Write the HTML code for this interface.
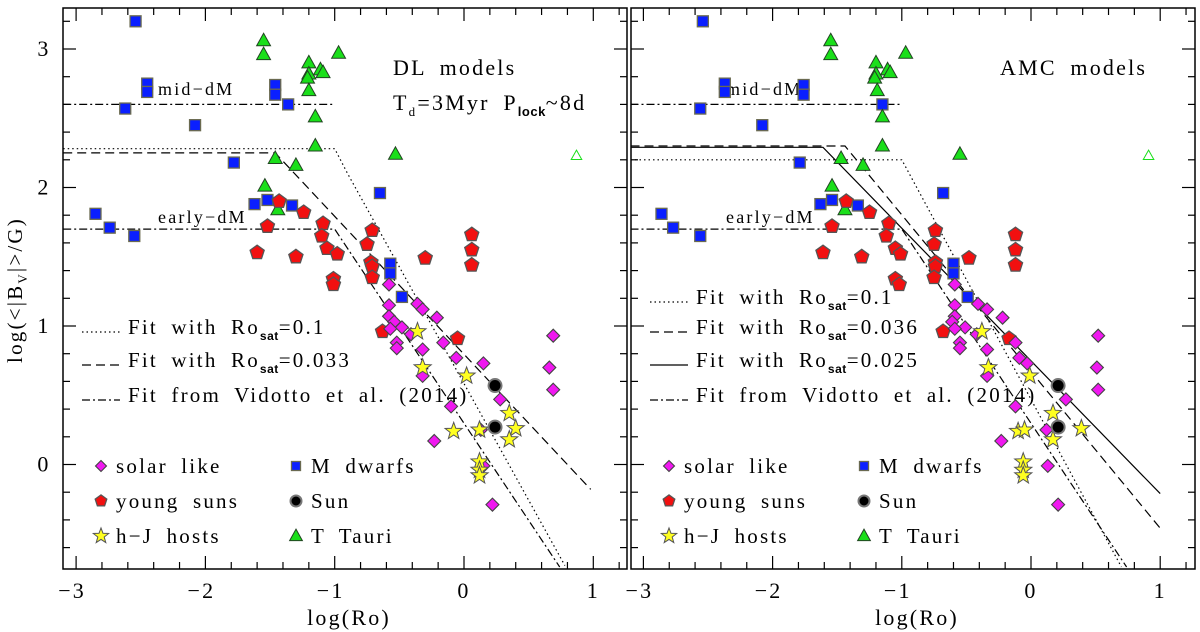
<!DOCTYPE html>
<html><head><meta charset="utf-8"><style>
html,body{margin:0;padding:0;background:#fff;}
svg{display:block;font-family:"Liberation Serif",serif;}
text{letter-spacing:2.2px;word-spacing:6px;}
</style></head><body>
<svg id="chart" width="1200" height="632" viewBox="0 0 1200 632" xmlns="http://www.w3.org/2000/svg"></svg>
<script>
// ---- data ----
const mdY   = [3.20,2.75,2.69,2.57,2.45,2.74,2.67,2.60,2.18,1.81,1.71,1.65,1.88,1.91,1.87,1.96,1.45,1.38,1.21];
const mdXdl = [-2.54,-2.45,-2.45,-2.62,-2.08,-1.46,-1.46,-1.36,-1.78,-2.85,-2.74,-2.55,-1.62,-1.52,-1.33,-0.65,-0.57,-0.57,-0.48];
const mdXamc= [-2.54,-2.37,-2.37,-2.56,-2.08,-1.76,-1.76,-1.15,-1.79,-2.86,-2.77,-2.56,-1.63,-1.54,-1.34,-0.68,-0.60,-0.60,-0.49];
const ttY   = [3.06,2.96,2.90,2.82,2.79,2.85,2.83,2.97,2.70,2.51,2.30,2.21,2.16,2.24,2.01,1.84];
const ttXdl = [-1.55,-1.55,-1.20,-1.20,-1.21,-1.11,-1.09,-0.97,-1.20,-1.15,-1.15,-1.46,-1.30,-0.53,-1.54,-1.44];
const ttXamc= [-1.55,-1.55,-1.20,-1.20,-1.21,-1.11,-1.09,-0.97,-1.19,-1.15,-1.15,-1.47,-1.30,-0.55,-1.54,-1.44];
const ttOpenY = [2.23];
const ttOpenXdl = [0.87];
const ttOpenXamc = [0.91];
const ysY   = [1.90,1.82,1.72,1.53,1.50,1.74,1.65,1.56,1.52,1.34,1.30,1.69,1.59,1.46,1.43,1.35,1.49,1.66,1.55,1.44,0.96,0.91];
const ysXdl = [-1.43,-1.24,-1.52,-1.60,-1.30,-1.09,-1.10,-1.06,-0.98,-1.01,-1.01,-0.71,-0.75,-0.72,-0.71,-0.71,-0.30,0.06,0.06,0.06,-0.63,-0.05];
const ysXamc= [-1.43,-1.25,-1.54,-1.61,-1.31,-1.10,-1.12,-1.05,-1.01,-1.05,-1.02,-0.74,-0.75,-0.74,-0.74,-0.75,-0.48,-0.12,-0.12,-0.12,-0.68,-0.17];
const slY   = [1.30,1.15,1.16,1.12,1.06,1.07,1.03,0.99,0.98,0.94,0.88,0.84,0.83,0.88,0.77,0.73,0.64,0.42,0.47,0.17,-0.01,-0.29,0.93,0.70,0.54,0.25];
const slXdl = [-0.58,-0.58,-0.36,-0.32,-0.21,-0.58,-0.54,-0.48,-0.57,-0.41,-0.52,-0.52,-0.32,-0.16,-0.06,0.15,-0.32,-0.10,0.28,-0.23,0.15,0.22,0.69,0.66,0.69,0.13];
const slXamc= [-0.59,-0.59,-0.41,-0.34,-0.22,-0.59,-0.61,-0.51,-0.59,-0.42,-0.55,-0.55,-0.34,-0.12,-0.09,-0.03,-0.34,-0.12,0.27,-0.23,0.13,0.21,0.52,0.51,0.52,0.12];
const hjY   = [0.96,0.70,0.64,0.37,0.26,0.18,0.24,0.25,0.02,-0.04,-0.08];
const hjXdl = [-0.36,-0.32,0.02,0.35,0.40,0.35,-0.08,0.12,0.12,0.12,0.12];
const hjXamc= [-0.38,-0.33,-0.01,0.17,0.39,0.17,-0.10,-0.05,-0.06,-0.06,-0.06];
const sunY  = [0.57,0.27];
const sunXdl = [0.24,0.24];
const sunXamc= [0.21,0.21];
// fit lines (x, y vertices)
const dlDotX = [-3.1,-1.0,-0.9,0.78];   const dlDotY = [2.28,2.28,2.10,-0.73];
const dlDashX = [-3.1,-1.46,0.98];      const dlDashY = [2.25,2.25,-0.18];
const vidX = [-3.1,-1.0,0.74];          const vidY = [1.70,1.70,-0.74];
const midX = [-3.1,-1.0];               const midY = [2.60,2.60];
const amcDotX = [-3.1,-1.0,0.70];       const amcDotY = [2.20,2.20,-0.74];
const amcDashX = [-3.1,-1.44,1.0];      const amcDashY = [2.30,2.30,-0.46];
const amcSolidX = [-3.1,-1.61,1.0];     const amcSolidY = [2.29,2.29,-0.21];
const xTickLabels = ["−3","−2","−1","0","1"];
const xTickVals = [-3,-2,-1,0,1];
const yTickLabels = ["0","1","2","3"];
const yTickVals = [0,1,2,3];

const NS="http://www.w3.org/2000/svg";
const svg=document.getElementById('chart');
function el(tag,attrs,parent){const e=document.createElementNS(NS,tag);for(const k in attrs)e.setAttribute(k,attrs[k]);(parent||svg).appendChild(e);return e;}

const Y0=464.5, YS=138.5, TOP=8, BOT=569;
const yS=v=>Y0-YS*v;
const panels=[
 {name:'dl',x0:464,xs:129.3,L:63,R:627},
 {name:'amc',x0:1031,xs:129.2,L:631,R:1195}
];

function sym(g,type,cx,cy,s){
  let e;
  if(type==='sq'){e=el('rect',{x:cx-s/2,y:cy-s/2,width:s,height:s,fill:'#0a1fff',stroke:'#6a6a50','stroke-width':1.3},g);}
  else if(type==='tri'){e=el('polygon',{points:`${cx},${cy-s*0.62} ${cx+s*0.58},${cy+s*0.42} ${cx-s*0.58},${cy+s*0.42}`,fill:'#1adf1a',stroke:'#224422','stroke-width':1},g);}
  else if(type==='otri'){e=el('polygon',{points:`${cx},${cy-s*0.5} ${cx+s*0.48},${cy+s*0.35} ${cx-s*0.48},${cy+s*0.35}`,fill:'none',stroke:'#1adf1a','stroke-width':1},g);}
  else if(type==='pent'){let p=[];for(let i=0;i<5;i++){const a=-Math.PI/2+i*2*Math.PI/5;p.push((cx+s*0.55*Math.cos(a)).toFixed(1)+','+(cy+s*0.55*Math.sin(a)).toFixed(1));}
    e=el('polygon',{points:p.join(' '),fill:'#f21010',stroke:'#555','stroke-width':1.3},g);}
  else if(type==='dia'){e=el('polygon',{points:`${cx},${cy-s/2} ${cx+s/2},${cy} ${cx},${cy+s/2} ${cx-s/2},${cy}`,fill:'#f018f0',stroke:'#444','stroke-width':1.1},g);}
  else if(type==='star'){let p=[];for(let i=0;i<10;i++){const r=i%2?s*0.24:s*0.58;const a=-Math.PI/2+i*Math.PI/5;p.push((cx+r*Math.cos(a)).toFixed(1)+','+(cy+r*Math.sin(a)).toFixed(1));}
    e=el('polygon',{points:p.join(' '),fill:'#ffff20',stroke:'#555','stroke-width':1},g);}
  else if(type==='sun'){e=el('circle',{cx:cx,cy:cy,r:s/2,fill:'#000',stroke:'#777','stroke-width':2},g);}
  return e;
}
function line(g,xs,ys,P,dash,name){
  const pts=xs.map((v,i)=>(P.x0+P.xs*v).toFixed(1)+','+yS(ys[i]).toFixed(1)).join(' ');
  const e=el('polyline',{points:pts,fill:'none',stroke:'#000','stroke-width':1.2,'stroke-dasharray':dash},g);
  
  
}
function text(g,x,y,str,size,anchor){const t=el('text',{x:x,y:y,'font-size':size,'text-anchor':anchor||'start',fill:'#000'},g);t.textContent=str;return t;}

panels.forEach((P,pi)=>{
  const g=el('g',{});
  
  
  const xS=v=>P.x0+P.xs*v;
  const tg=el('g',{stroke:'#000','stroke-width':1.2},g);
  
  
  for(let k=-16;k<=6;k++){const v=k/5;const x=xS(v);if(x<P.L+1||x>P.R-1)continue;const big=(k%5===0);const l=big?13:7;
    el('line',{x1:x,y1:BOT,x2:x,y2:BOT-l},tg);el('line',{x1:x,y1:TOP,x2:x,y2:TOP+l},tg);}
  for(let k=-4;k<=16;k++){const v=k/5;const y=yS(v);if(y<TOP+1||y>BOT-1)continue;const big=(k%5===0);const l=big?13:7;
    el('line',{x1:P.L,y1:y,x2:P.L+l,y2:y},tg);el('line',{x1:P.R,y1:y,x2:P.R-l,y2:y},tg);}
  const fr=el('rect',{x:P.L,y:TOP,width:P.R-P.L,height:BOT-TOP,fill:'none',stroke:'#000','stroke-width':1.5},g);
  
  
  xTickVals.forEach((v,i)=>{const t=text(g,xS(v)-(xTickLabels[i].length>1?4:0),598,xTickLabels[i],22,'middle');
    
    });
  const xl=text(g,(P.L+P.R)/2+4,625,'log(Ro)',22,'middle');
  
  
  if(pi===0){
    yTickVals.forEach((v,i)=>{const t=text(g,44,yS(v)+7,yTickLabels[i],22,'middle');
      
      });
  }
  line(g,midX,midY,P,'8 3 2 3','mid-dM-line');
  line(g,vidX,vidY,P,'8 3 2 3','vidotto-fit-line');
  if(pi===0){
    line(g,dlDotX,dlDotY,P,'1.5 3','fit-rosat-0.1-line');
    line(g,dlDashX,dlDashY,P,'9 5','fit-rosat-0.033-line');
  } else {
    line(g,amcDotX,amcDotY,P,'1.5 3','fit-rosat-0.1-line');
    line(g,amcDashX,amcDashY,P,'9 5','fit-rosat-0.036-line');
    line(g,amcSolidX,amcSolidY,P,'','fit-rosat-0.025-line');
  }
  const lx=P.L+95;
  const t1=text(g,lx,95,'mid−dM',18);
  const t2=text(g,lx,223,'early−dM',18);
  const sets=pi===0?
    [['sq',mdXdl,mdY,11,'m-dwarf'],['tri',ttXdl,ttY,12,'t-tauri'],['otri',ttOpenXdl,ttOpenY,11,'t-tauri-open'],['pent',ysXdl,ysY,13.5,'young-sun'],['dia',slXdl,slY,13,'solar-like'],['star',hjXdl,hjY,15.5,'hj-host'],['sun',sunXdl,sunY,13,'sun']]:
    [['sq',mdXamc,mdY,11,'m-dwarf'],['tri',ttXamc,ttY,12,'t-tauri'],['otri',ttOpenXamc,ttOpenY,11,'t-tauri-open'],['pent',ysXamc,ysY,13.5,'young-sun'],['dia',slXamc,slY,13,'solar-like'],['star',hjXamc,hjY,15.5,'hj-host'],['sun',sunXamc,sunY,13,'sun']];
  sets.forEach(s=>{s[1].forEach((xv,i)=>{const e=sym(g,s[0],xS(xv),yS(s[2][i]),s[3]);
    
    });});
  if(pi===0){
    const a=text(g,393,75,'DL models',22);
    const b=el('text',{x:393,y:110,'font-size':22},g);
    b.innerHTML='T<tspan dy="6" font-size="13">d</tspan><tspan dy="-6">=3Myr P</tspan><tspan dy="6" font-size="13" font-weight="bold" font-family="Liberation Sans" style="letter-spacing:0.5px">lock</tspan><tspan dy="-6">~8d</tspan>';
  } else {
    const a=text(g,1000,75,'AMC models',22);
  }
  const leg=el('g',{},g);
  
  
  const items=pi===0?[['1.5 3','0.1',327],['9 5','0.033',360],['8 3 2 3',null,395]]:
    [['1.5 3','0.1',297],['9 5','0.036',327],['','0.025',360],['8 3 2 3',null,395]];
  items.forEach(it=>{
    const x1=P.L+19,x2=P.L+57;
    el('line',{x1:x1,y1:it[2]+5,x2:x2,y2:it[2]+5,stroke:'#000','stroke-width':1.2,'stroke-dasharray':it[0]},leg);
    const t=el('text',{x:P.L+65,y:it[2]+7,'font-size':21},leg);
    
    
    if(it[1]) t.innerHTML='Fit with Ro<tspan dy="6" font-size="12" font-weight="bold" font-family="Liberation Sans" style="letter-spacing:0.5px">sat</tspan><tspan dy="-6">=' + it[1] + '</tspan>';
    else t.textContent='Fit from Vidotto et al. (2014)';
  });
  const sl=el('g',{},g);
  
  
  const c1=P.L+38,c2=P.L+233;
  [['dia','solar like',c1,466],['pent','young suns',c1,501],['star','h−J hosts',c1,536],['sq','M dwarfs',c2,466],['sun','Sun',c2,501],['tri','T Tauri',c2,536]].forEach(r=>{
    const s=sym(sl,r[0],r[2],r[3],r[0]==='sq'?9:(r[0]==='star'?14:11));
    
    
    const t=text(sl,r[2]+15,r[3]+7,r[1],21);
    
    
  });
});
const yl=el('text',{x:0,y:0,'font-size':21,'text-anchor':'middle',transform:'translate(22,290) rotate(-90)'});


yl.innerHTML='log(&lt;|B<tspan dy="5" font-size="13">V</tspan><tspan dy="-5">|&gt;/G)</tspan>';
</script>
</body></html>
